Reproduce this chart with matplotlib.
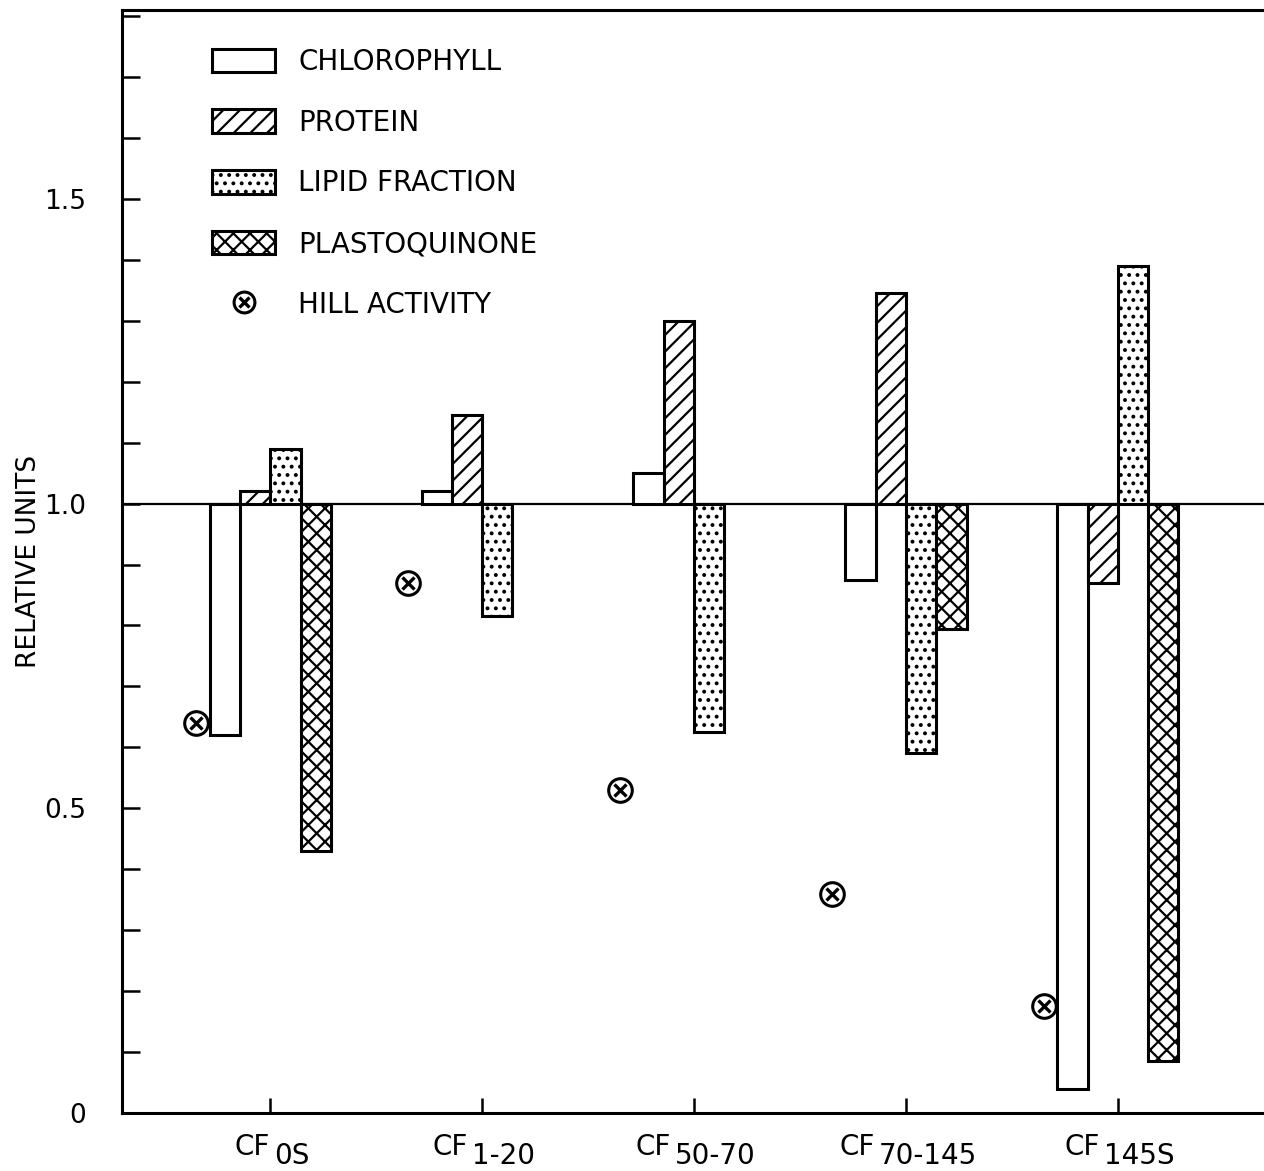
import numpy as np
import matplotlib
matplotlib.use("Agg")
import matplotlib.pyplot as plt
from matplotlib.lines import Line2D
from matplotlib.patches import Patch
from matplotlib.legend_handler import HandlerTuple
from matplotlib.ticker import MultipleLocator

# ---- data ----
groups_main = ["CF", "CF", "CF", "CF", "CF"]
groups_sub = ["0S", "1-20", "50-70", "70-145", "145S"]
series = ["CHLOROPHYLL", "PROTEIN", "LIPID FRACTION", "PLASTOQUINONE"]
chlorophyll = [0.62, 1.02, 1.05, 0.875, 0.04]
protein = [1.02, 1.145, 1.30, 1.345, 0.87]
lipid = [1.09, 0.815, 0.625, 0.59, 1.39]
plastoquinone = [0.43, np.nan, np.nan, 0.795, 0.085]
hill_label = "HILL ACTIVITY"
hill = [0.64, 0.87, 0.53, 0.36, 0.175]
y_ticks = [0, 0.5, 1.0, 1.5]
y_ticklabels = ["0", "0.5", "1.0", "1.5"]

plt.rcParams["font.family"] = ["DejaVu Sans"]
plt.rcParams["hatch.linewidth"] = 1.6

W, H = 1264, 1171
fig = plt.figure(figsize=(W / 100, H / 100), dpi=100)
left_px, right_px, top_px, bot_px = 122, 1264, 10, 1113
ax = fig.add_axes([left_px / W, 1 - bot_px / H, (right_px - left_px) / W, (bot_px - top_px) / H])

x = np.arange(len(groups_sub))
w = 0.143
values = [chlorophyll, protein, lipid, plastoquinone]
hatches = [None, "//", "..", "xx"]
for k, (vals, hatch) in enumerate(zip(values, hatches)):
    v = np.array(vals, dtype=float)
    ax.bar(x + (k - 1.5) * w, v - 1.0, bottom=1.0, width=w, facecolor="white",
           edgecolor="black", linewidth=2.2, hatch=hatch, zorder=3)

ax.plot(x - 0.35, hill, linestyle="none", marker="o", ms=17, mfc="white", mec="black", mew=2.2, zorder=4)
ax.plot(x - 0.35, hill, linestyle="none", marker="x", ms=8, mec="black", mew=2.4, zorder=5)

ax.axhline(1.0, color="black", lw=1.6, zorder=2)

ax.set_xlim(-0.70, 4.69)
ax.set_ylim(0, 1.81)

for s in ["left", "bottom", "top"]:
    ax.spines[s].set_linewidth(2.2)
ax.spines["right"].set_visible(False)

ax.set_yticks(y_ticks)
ax.set_yticklabels(y_ticklabels, fontsize=19)
ax.yaxis.set_minor_locator(MultipleLocator(0.1))
ax.tick_params(axis="y", which="both", direction="in", length=13, width=1.8, pad=26)
ax.set_xticks(x)
ax.set_xticklabels([])
ax.tick_params(axis="x", which="both", direction="in", length=11, width=1.8)

ax.set_ylabel("RELATIVE UNITS", fontsize=19)
ax.yaxis.set_label_coords(-0.070, 0.5)

# x tick labels: CF + lowered subscript
cf_texts, sub_texts = [], []
for i in range(len(groups_sub)):
    t1 = ax.annotate(groups_main[i], xy=(x[i], 0), xycoords=("data", "axes fraction"),
                     xytext=(0, -20), textcoords="offset pixels", ha="left", va="top", fontsize=20)
    t2 = ax.annotate(groups_sub[i], xy=(x[i], 0), xycoords=("data", "axes fraction"),
                     xytext=(0, -29), textcoords="offset pixels", ha="left", va="top", fontsize=20)
    cf_texts.append(t1)
    sub_texts.append(t2)

# legend
handles = [Patch(facecolor="white", edgecolor="black", linewidth=2.2, hatch=h) for h in hatches]
hill_handle = (Line2D([], [], linestyle="none", marker="o", ms=15, mfc="white", mec="black", mew=2.2),
               Line2D([], [], linestyle="none", marker="x", ms=7, mec="black", mew=2.4))
fs = 20
fpx = fs * 100 / 72
leg = ax.legend(handles + [hill_handle], series + [hill_label], loc="upper left",
                bbox_to_anchor=((212 - left_px) / (right_px - left_px), 1 - (48 - top_px) / (bot_px - top_px)),
                frameon=False, fontsize=fs, borderpad=0, borderaxespad=0,
                handlelength=63 / fpx, handleheight=26 / fpx, labelspacing=(60.5 - fpx) / fpx,
                handletextpad=(298 - 275) / fpx,
                handler_map={tuple: HandlerTuple(ndivide=1)})

fig.canvas.draw()
r = fig.canvas.get_renderer()
for t1, t2 in zip(cf_texts, sub_texts):
    w1 = t1.get_window_extent(r).width
    w2 = t2.get_window_extent(r).width
    gap = 4
    tot = w1 + gap + w2
    t1.xyann = (-tot / 2 + 2, -20)
    t2.xyann = (-tot / 2 + 2 + w1 + gap, -29)

fig.savefig("out.png", dpi=100, facecolor="white")
